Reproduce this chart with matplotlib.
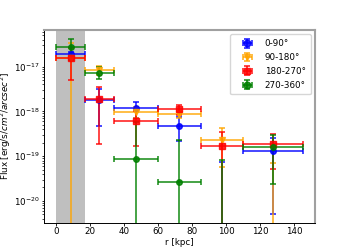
import numpy as np
import matplotlib
matplotlib.use("Agg")
import matplotlib.pyplot as plt

plt.rcParams['font.size'] = 6.3

# radial bins [kpc]
r_mid = [8.5, 25.5, 47.0, 72.5, 97.5, 127.5]
r_err = [8.5, 8.5, 13.0, 12.5, 12.5, 17.5]

labels = ['0-90°', '90-180°', '180-270°', '270-360°']
colors = ['blue', 'orange', 'red', 'green']
markers = ['o', 'v', 's', 'o']

# flux per quadrant (negative = below zero, only upper error visible)
flux_0 = [1.95e-17, 1.79e-18, 1.17e-18, 4.8e-19, -2e-20, 1.3e-19]
err_0 = [2.0e-18, 1.31e-18, 4.5e-19, 2.6e-19, 9.5e-20, 1.25e-19]

flux_90 = [1.6e-17, 8.5e-18, 9.8e-19, 8.6e-19, 2.36e-19, -3e-20]
err_90 = [1.7e-17, 2.0e-18, 2.5e-19, 1.5e-19, 1.8e-19, 1.01e-19]

flux_180 = [1.55e-17, 1.87e-18, 6.07e-19, 1.11e-18, 1.68e-19, 1.83e-19]
err_180 = [1.05e-17, 1.68e-18, 4.4e-19, 2.7e-19, 1.71e-19, 1.3e-19]

flux_270 = [2.76e-17, 7.4e-18, 8.5e-20, 2.6e-20, -2e-20, 1.58e-19]
err_270 = [1.35e-17, 2.2e-18, 5.0e-19, 2.0e-19, 1.02e-19, 1.34e-19]

fluxes = [flux_0, flux_90, flux_180, flux_270]
errs = [err_0, err_90, err_180, err_270]

fig, ax = plt.subplots(figsize=(3.5, 2.5), dpi=100)

ax.axvspan(0, 17, color='gray', alpha=0.5, lw=0, zorder=0)

for i in range(4):
	ax.errorbar(r_mid, fluxes[i], xerr=r_err, yerr=errs[i], fmt=markers[i],
		color=colors[i], ms=4, elinewidth=1.2, capsize=2.2, capthick=1.2,
		alpha=0.85, label=labels[i])

ax.set_yscale('log')
ax.set_xlim(-7.3, 152.3)
ax.set_ylim(3.3e-21, 6.6e-17)
ax.set_xticks([0, 20, 40, 60, 80, 100, 120, 140])

ax.set_xlabel('r [kpc]', labelpad=1.5)
ax.set_ylabel(r'Flux [erg/s/$cm^2/arcsec^2$]', labelpad=0.8)

ax.tick_params(which='major', length=1.8, width=0.6, pad=1.3)
ax.tick_params(which='minor', length=1.1, width=0.5)
for s in ['left', 'bottom']:
	ax.spines[s].set_linewidth(0.7)
for s in ['top', 'right']:
	ax.spines[s].set_color('#a0a0a0')
	ax.spines[s].set_linewidth(1.5)

ax.legend(loc='upper right', fontsize=6.3, handlelength=2.8, handletextpad=0.6,
	borderpad=0.55, labelspacing=0.55, markerscale=1.2)

fig.savefig('out.png', dpi=100)
